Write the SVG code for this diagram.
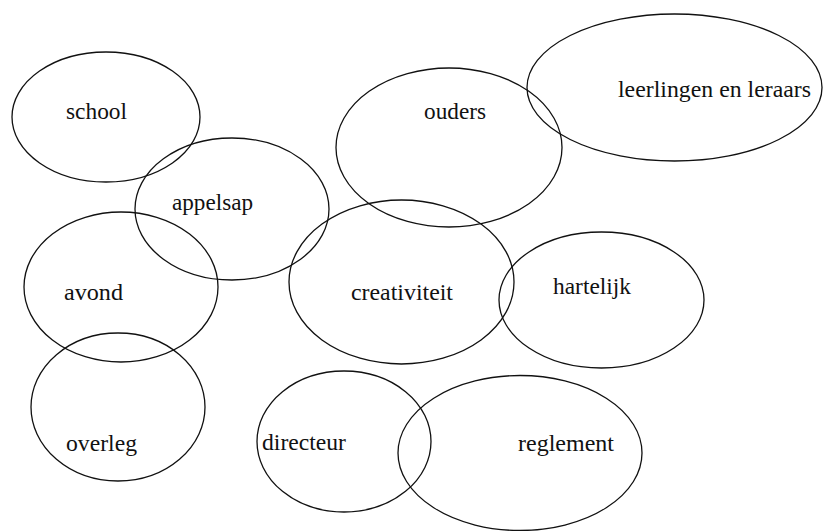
<svg xmlns="http://www.w3.org/2000/svg" width="825" height="531" viewBox="0 0 825 531">
<style>
.n ellipse{fill:none;stroke:#111;stroke-width:1.3}
text{font-family:'Liberation Serif','DejaVu Serif',serif;font-size:23px;fill:#111}
</style>
<rect x="0" y="0" width="825" height="531" fill="#fff"/>
<g id="connectors"></g>
<g id="school" class="n"><ellipse cx="106" cy="117" rx="94" ry="65"/><text x="66" y="119" textLength="61" lengthAdjust="spacingAndGlyphs">school</text></g>
<g id="appelsap" class="n"><ellipse cx="232" cy="209" rx="97" ry="71"/><text x="172" y="210" textLength="81" lengthAdjust="spacingAndGlyphs">appelsap</text></g>
<g id="avond" class="n"><ellipse cx="121" cy="287" rx="97" ry="75"/><text x="64" y="300" textLength="59" lengthAdjust="spacingAndGlyphs">avond</text></g>
<g id="overleg" class="n"><ellipse cx="118" cy="407" rx="87" ry="74"/><text x="66" y="451" textLength="71" lengthAdjust="spacingAndGlyphs">overleg</text></g>
<g id="ouders" class="n"><ellipse cx="449" cy="147.5" rx="113" ry="79.5"/><text x="424" y="119" textLength="62" lengthAdjust="spacingAndGlyphs">ouders</text></g>
<g id="leerlingen" class="n"><ellipse cx="674.5" cy="87.5" rx="147.5" ry="73.5"/><text x="618" y="97" textLength="193" lengthAdjust="spacingAndGlyphs">leerlingen en leraars</text></g>
<g id="creativiteit" class="n"><ellipse cx="401.5" cy="282" rx="112.5" ry="82"/><text x="351" y="300" textLength="102" lengthAdjust="spacingAndGlyphs">creativiteit</text></g>
<g id="hartelijk" class="n"><ellipse cx="601.5" cy="300" rx="102.5" ry="68"/><text x="553" y="294" textLength="78" lengthAdjust="spacingAndGlyphs">hartelijk</text></g>
<g id="directeur" class="n"><ellipse cx="344" cy="441.5" rx="87" ry="70.5"/><text x="262" y="450" textLength="84" lengthAdjust="spacingAndGlyphs">directeur</text></g>
<g id="reglement" class="n"><ellipse cx="520" cy="453" rx="122" ry="77.5"/><text x="518" y="451" textLength="96" lengthAdjust="spacingAndGlyphs">reglement</text></g>
</svg>
